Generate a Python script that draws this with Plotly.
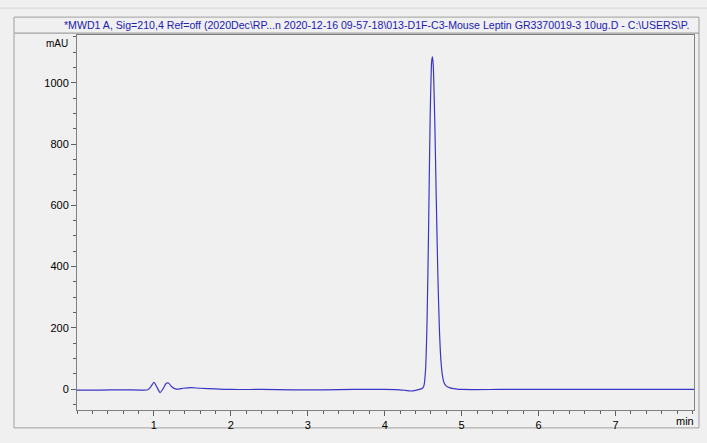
import plotly.graph_objects as go

# chromatogram (time in min, signal in mAU)
time_min = [0.00, 0.30, 0.60, 0.85, 0.92, 0.96, 1.00, 1.04, 1.08, 1.12, 1.16, 1.19,
            1.23, 1.29, 1.38, 1.48, 1.60, 1.80, 2.00, 2.40, 2.80, 3.20, 3.60, 4.00,
            4.20, 4.27, 4.34, 4.40, 4.46, 4.49, 4.51, 4.53, 4.55, 4.57, 4.59, 4.61,
            4.62, 4.63, 4.65, 4.67, 4.69, 4.71, 4.73, 4.75, 4.77, 4.80, 4.85, 4.92,
            5.00, 5.50, 6.00, 6.50, 7.00, 7.50, 8.02]
signal_mau = [-3, -3, -2, -3, -2, 8, 22, 6, -11, 2, 19, 20,
              8, 0, 3, 5, 3, 1, -1, -1, -2, -2, -1, -1,
              -2, -4, -6, -4, 0, 3, 12, 60, 220, 520, 880, 1070,
              1085, 1060, 880, 620, 380, 200, 95, 45, 22, 10, 4, 1,
              -1, -1, -1, -1, -1, -1, -1]

y_ticks = [0, 200, 400, 600, 800, 1000]
x_ticks = [1, 2, 3, 4, 5, 6, 7]
title_text = ("*MWD1 A, Sig=210,4 Ref=off (2020Dec\\RP...n 2020-12-16 09-57-18\\"
              "013-D1F-C3-Mouse Leptin GR3370019-3 10ug.D - C:\\USERS\\P.")

W, H = 707, 443
L, R, T, B = 77, 694, 35, 412


def px(x):
    return (x - L) / (R - L)


def py(y):
    return (B - y) / (B - T)


fig = go.Figure(go.Scatter(x=time_min, y=signal_mau, mode='lines',
                           line=dict(color='#3b35c6', width=1.2, shape='spline', smoothing=0.6),
                           hoverinfo='skip'))

# outer frame and title box
fig.add_shape(type='rect', xref='paper', yref='paper', layer='below',
              x0=px(14), x1=px(699), y0=py(430), y1=py(33),
              line=dict(color='#a0a0a0', width=1), fillcolor='#f0f0f0')
fig.add_shape(type='rect', xref='paper', yref='paper', layer='below',
              x0=px(14), x1=px(699), y0=py(33), y1=py(17),
              line=dict(color='#a0a0a0', width=1), fillcolor='#f0f0f0')
fig.add_shape(type='line', xref='paper', yref='paper',
              x0=px(0), x1=px(707), y0=py(8), y1=py(8),
              line=dict(color='#d6d6d6', width=1))

fig.add_annotation(text=title_text, xref='paper', yref='paper', x=px(691), y=py(25),
                   xanchor='right', yanchor='middle', showarrow=False,
                   font=dict(family='Liberation Sans', size=10.6, color='#2020b0'))
fig.add_annotation(text='mAU', xref='paper', yref='paper', x=px(70), y=py(44),
                   xanchor='right', yanchor='middle', showarrow=False,
                   font=dict(family='Liberation Sans', size=10, color='#000000'))
fig.add_annotation(text='min', xref='paper', yref='paper', x=px(685), y=py(423),
                   xanchor='center', yanchor='middle', showarrow=False,
                   font=dict(family='Liberation Sans', size=11, color='#000000'))

fig.update_xaxes(range=[0, 8.02], tickvals=x_ticks, ticks='outside', ticklen=5,
                 tickcolor='#606060', showgrid=False, zeroline=False,
                 showline=True, linecolor='#808080', mirror=True,
                 minor=dict(dtick=0.2, ticks='outside', ticklen=3, tickcolor='#606060'),
                 tickfont=dict(family='Liberation Sans', size=11, color='#000000'))
fig.update_yaxes(range=[-68, 1156], tickvals=y_ticks, ticks='outside', ticklen=5,
                 tickcolor='#606060', showgrid=False, zeroline=False,
                 showline=True, linecolor='#808080', mirror=True,
                 minor=dict(dtick=50, ticks='outside', ticklen=3, tickcolor='#606060'),
                 tickfont=dict(family='Liberation Sans', size=11, color='#000000'))

fig.update_layout(width=W, height=H, margin=dict(l=L, r=W - R, t=T, b=H - B),
                  paper_bgcolor='#f0f0f0', plot_bgcolor='#ffffff', showlegend=False)
# drop the page's default body margin so the figure sits at the window's corner
fig.write_html("out.html", config={'displayModeBar': False},
               post_script="document.body.style.margin='0';document.body.style.overflow='hidden';")
